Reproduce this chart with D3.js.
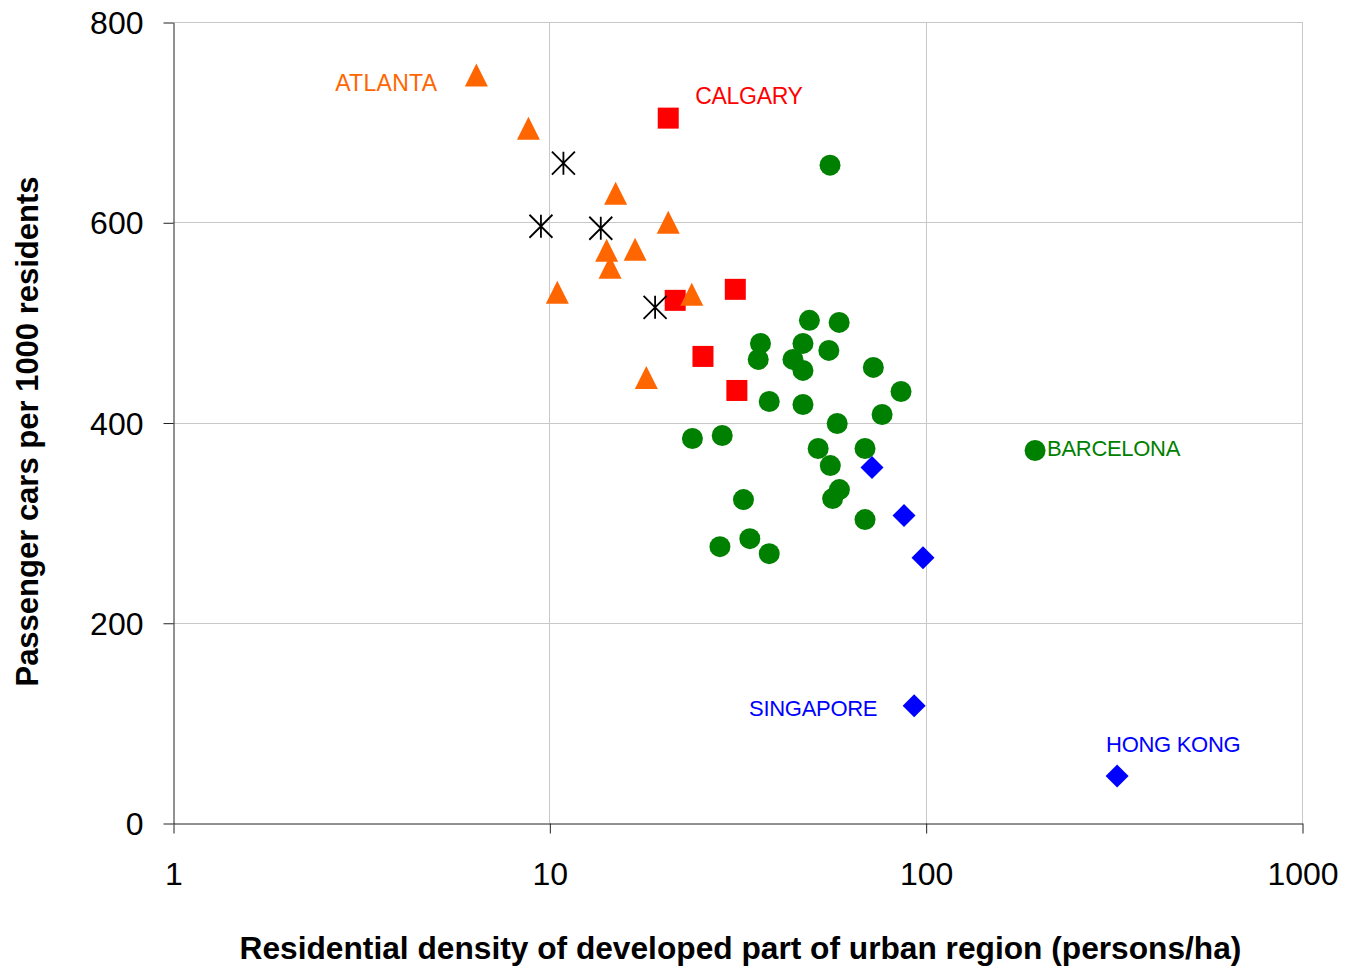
<!DOCTYPE html>
<html>
<head>
<meta charset="utf-8">
<script src="https://cdn.jsdelivr.net/npm/d3@7"></script>
<style>
  html, body { margin: 0; padding: 0; background: #fff; }
  svg { display: block; font-family: "Liberation Sans", Arial, sans-serif; }
</style>
</head>
<body>
<svg id="chart" width="1346" height="970"></svg>
<script>
// ---- Data (density persons/ha, passenger cars per 1000 residents) ----
const usaCities = [
  [6.4, 747], [8.8, 694], [15.0, 629], [20.7, 600], [14.2, 572],
  [16.9, 573], [14.5, 555], [10.5, 530], [23.9, 528], [18.1, 445]
];
const canadaCities = [
  [20.7, 704], [21.6, 522], [31.2, 533], [25.6, 466], [31.5, 432]
];
const australiaCities = [
  [10.9, 659], [9.5, 596], [13.7, 594], [19.1, 515]
];
const europeCities = [
  [55.7, 657], [49.1, 502], [58.9, 500], [36.4, 479], [47.2, 479],
  [55.3, 472], [35.9, 463], [44.4, 463], [47.2, 452], [72.6, 455],
  [86.0, 431], [38.4, 421], [47.2, 418], [76.6, 408], [58.2, 399],
  [24.0, 384], [28.8, 387], [51.8, 374], [69.0, 374], [55.8, 357],
  [59.0, 333], [56.6, 324], [32.8, 323], [69.0, 303], [34.1, 284],
  [28.4, 276], [38.4, 269], [195.3, 372]
];
const asiaCities = [
  [72.0, 355], [87.6, 307], [98.4, 265], [93.2, 117], [322.6, 47]
];
const xTicks = [1, 10, 100, 1000];
const yTicks = [0, 200, 400, 600, 800];
const xTitle = "Residential density of developed part of urban region (persons/ha)";
const yTitle = "Passenger cars per 1000 residents";
const cityLabels = [
  { text: "ATLANTA",   series: "usa",    point: [6.4, 747] },
  { text: "CALGARY",   series: "canada", point: [20.7, 704] },
  { text: "BARCELONA", series: "europe", point: [195.3, 372] },
  { text: "SINGAPORE", series: "asia",   point: [93.2, 117] },
  { text: "HONG KONG", series: "asia",   point: [322.6, 47] }
];

// ---- Layout ----
const svg = d3.select("#chart");
const plotLeft = 173, plotRight = 1302, plotTop = 22, plotBottom = 823;
const x = d3.scaleLog().domain([1, 1000]).range([plotLeft, plotRight]);
const y = d3.scaleLinear().domain([0, 800]).range([plotBottom, plotTop]);

const colors = { usa: "#FF6600", canada: "#FF0000", australia: "#000000", europe: "#008000", asia: "#0000FF" };

// gridlines
const grid = svg.append("g");
grid.selectAll("line.h").data(yTicks.filter(d => d > 0)).enter().append("line")
  .attr("x1", plotLeft).attr("x2", plotRight)
  .attr("y1", d => Math.round(y(d)) + 0.5).attr("y2", d => Math.round(y(d)) + 0.5)
  .attr("stroke", "#c8c8c8").attr("stroke-width", 1);
grid.selectAll("line.v").data(xTicks.filter(d => d > 1)).enter().append("line")
  .attr("y1", plotTop).attr("y2", plotBottom)
  .attr("x1", d => Math.round(x(d)) + 0.5).attr("x2", d => Math.round(x(d)) + 0.5)
  .attr("stroke", "#c8c8c8").attr("stroke-width", 1);

// axes
const xAxis = d3.axisBottom(x).tickValues(xTicks).tickFormat(d3.format("d"))
  .tickSizeInner(10).tickSizeOuter(0).tickPadding(29);
const gx = svg.append("g").attr("transform", `translate(0.5,${Math.round(plotBottom) + 0.5})`).call(xAxis);
const yAxis = d3.axisLeft(y).tickValues(yTicks).tickFormat(d3.format("d"))
  .tickSizeInner(10).tickSizeOuter(0).tickPadding(20);
const gy = svg.append("g").attr("transform", `translate(${plotLeft + 0.5},0.5)`).call(yAxis);

[gx, gy].forEach(g => {
  g.select(".domain").attr("stroke", "#222");
  g.selectAll(".tick line").attr("stroke", "#222");
  g.selectAll(".tick text").attr("fill", "#000")
    .style("font-family", "'Liberation Sans', Arial, sans-serif").style("font-size", "32px");
});
gx.selectAll(".tick text").attr("dy", "0.71em");
gy.selectAll(".tick text").attr("dy", "0.35em");

// axis titles
svg.append("text").attr("x", 740.5).attr("y", 959).attr("text-anchor", "middle")
  .style("font-size", "31.7px").style("font-weight", "bold").attr("fill", "#000")
  .text(xTitle);
svg.append("text").attr("transform", "translate(38,431.5) rotate(-90)").attr("text-anchor", "middle")
  .style("font-size", "31px").style("font-weight", "bold").attr("fill", "#000")
  .text(yTitle);

// markers
const plot = svg.append("g");
function px(d) { return x(d[0]); }
function py(d) { return y(d[1]); }

// Europe: circles
plot.selectAll("circle.eu").data(europeCities).enter().append("circle")
  .attr("cx", px).attr("cy", py).attr("r", 10.5).attr("fill", colors.europe);

// Canada: squares
plot.selectAll("rect.ca").data(canadaCities).enter().append("rect")
  .attr("x", d => px(d) - 10.5).attr("y", d => py(d) - 10.5)
  .attr("width", 21).attr("height", 21).attr("fill", colors.canada);

// USA: triangles
plot.selectAll("path.us").data(usaCities).enter().append("path")
  .attr("d", d => {
    const cx = px(d), cy = py(d), h = 11.5;
    return `M${cx},${cy - h}L${cx + h},${cy + h}L${cx - h},${cy + h}Z`;
  })
  .attr("fill", colors.usa);

// Asia: diamonds
plot.selectAll("path.as").data(asiaCities).enter().append("path")
  .attr("d", d => {
    const cx = px(d), cy = py(d), h = 11.5;
    return `M${cx},${cy - h}L${cx + h},${cy}L${cx},${cy + h}L${cx - h},${cy}Z`;
  })
  .attr("fill", colors.asia);

// Australia: asterisks
plot.selectAll("path.au").data(australiaCities).enter().append("path")
  .attr("d", d => {
    const cx = px(d), cy = py(d), h = 11.5;
    return `M${cx},${cy - h}L${cx},${cy + h}M${cx - h},${cy - h}L${cx + h},${cy + h}M${cx + h},${cy - h}L${cx - h},${cy + h}`;
  })
  .attr("fill", "none").attr("stroke", colors.australia).attr("stroke-width", 1.8);

// city labels (offsets relative to their data point)
const labelOffsets = {
  "ATLANTA":   { dx: -39, dy: 16,  anchor: "end",   size: 23, spacing: 0.3 },
  "CALGARY":   { dx: 27,  dy: -14, anchor: "start", size: 23, spacing: -0.3 },
  "BARCELONA": { dx: 12,  dy: 5,   anchor: "start", size: 22, spacing: -0.3 },
  "SINGAPORE": { dx: -37, dy: 10,  anchor: "end",   size: 22, spacing: -0.3 },
  "HONG KONG": { dx: -11, dy: -24, anchor: "start", size: 22, spacing: -0.3 }
};
svg.selectAll("text.city").data(cityLabels).enter().append("text")
  .attr("x", d => x(d.point[0]) + labelOffsets[d.text].dx)
  .attr("y", d => y(d.point[1]) + labelOffsets[d.text].dy)
  .attr("text-anchor", d => labelOffsets[d.text].anchor)
  .attr("fill", d => colors[d.series])
  .style("font-size", d => labelOffsets[d.text].size + "px")
  .style("letter-spacing", d => labelOffsets[d.text].spacing + "px")
  .text(d => d.text);
</script>
</body>
</html>
